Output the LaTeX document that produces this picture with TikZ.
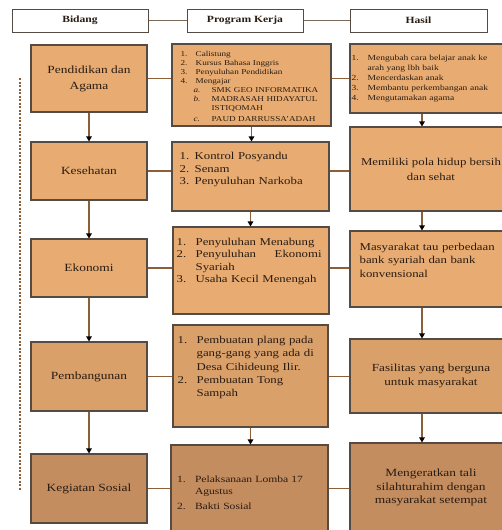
\documentclass[tikz,border=0pt]{standalone}
\usepackage{fontspec}
\setmainfont[FakeStretch=1.22]{Liberation Serif}
\usetikzlibrary{arrows.meta}
\definecolor{rowa}{HTML}{E8AC72}
\definecolor{rowb}{HTML}{DAA06A}
\definecolor{rowc}{HTML}{C48D5F}
\definecolor{bordc}{HTML}{564B42}
\definecolor{linec}{HTML}{8E5E36}
\definecolor{headc}{HTML}{7A6A5A}
\definecolor{txtc}{HTML}{2A1C12}
\newcommand\itm[3][15pt]{\par\hangindent=#1\hangafter=1\noindent\makebox[#1][l]{#2}#3}
\newcommand\subitm[2]{\par\hangindent=31pt\hangafter=1\noindent\hspace*{13pt}\makebox[18pt][l]{\itshape #1}#2}
\begin{document}
\begin{tikzpicture}[x=1pt,y=-1pt,
  box/.style={draw=bordc,line width=1.1pt,fill=rowa,inner sep=0pt,text=txtc},
  head/.style={draw=bordc,line width=1pt,fill=white,minimum height=23pt,text=txtc,font=\bfseries\fontsize{9.5}{11}\selectfont},
  lst/.style={anchor=north west,inner sep=0pt,align=left,text=txtc},
  link/.style={draw=linec,line width=1.2pt},
  arr/.style={link,-{Triangle[length=5pt,width=5.5pt,color=black]}}]
\useasboundingbox (0,0) rectangle (502,530);
% kepala kolom
\node[head,minimum width=136pt] (bid) at (80,20.5) {Bidang};
\node[head,minimum width=116pt] (progh) at (245,20.5) {Program Kerja};
\node[head,minimum width=137pt] (hasil) at (418.5,20.5) {Hasil};
\draw[link,draw=headc,line width=1pt] (bid.east) -- (progh.west) (progh.east) -- (hasil.west);
% garis putus-putus
\coordinate (dtop) at (20,78);
\coordinate (dbot) at (20,490);
\draw[draw=linec,line width=1.2pt,dash pattern=on 2pt off 1.5pt] (dtop) -- (dbot);
% kolom bidang
\foreach \n/\y/\h/\c/\t in {pend/78.5/67/rowa/{Pendidikan dan\\Agama},kes/171/58/rowa/Kesehatan,eko/268/58/rowa/Ekonomi,pemb/376.5/69/rowb/Pembangunan,keg/488.5/69/rowc/Kegiatan Sosial}
  \node[box,fill=\c,minimum width=116pt,minimum height=\h pt,align=center,font=\fontsize{11}{16}\selectfont] (\n) at (89,\y) {\t};
% kolom program kerja
\node[box,minimum width=159pt,minimum height=82pt] (prog1) at (251.5,85) {};
\node[lst,text width=148pt,font=\fontsize{7.5}{9}\selectfont] (prog1t) at ([shift={(9pt,-4pt)}]prog1.north west)
  {\itm{1.}{Calistung}\itm{2.}{Kursus Bahasa Inggris}\itm{3.}{Penyuluhan Pendidikan}\itm{4.}{Mengajar}%
   \subitm{a.}{SMK GEO INFORMATIKA}\subitm{b.}{MADRASAH HIDAYATUL\newline ISTIQOMAH}\par\vspace{2pt}\subitm{c.}{PAUD DARRUSSA'ADAH}\par};
\node[box,minimum width=157pt,minimum height=69pt] (prog2) at (250.5,176.5) {};
\node[lst,text width=145pt,font=\fontsize{10.5}{12.5}\selectfont] (prog2t) at ([shift={(8pt,-5.5pt)}]prog2.north west)
  {\itm{1.}{Kontrol Posyandu}\itm{2.}{Senam}\itm{3.}{Penyuluhan Narkoba}\par};
\node[box,minimum width=156pt,minimum height=87pt] (prog3) at (251,270.5) {};
\node[lst,text width=145pt,font=\fontsize{10.5}{12.3}\selectfont] (prog3t) at ([shift={(4pt,-6.5pt)}]prog3.north west)
  {\itm[19pt]{1.}{Penyuluhan Menabung}\itm[19pt]{2.}{Penyuluhan\hfill Ekonomi\newline Syariah}\itm[19pt]{3.}{Usaha Kecil Menengah}\par};
\node[box,fill=rowb,minimum width=155pt,minimum height=102pt] (prog4) at (250.5,376) {};
\node[lst,text width=146pt,font=\fontsize{10.5}{13.3}\selectfont] (prog4t) at ([shift={(5pt,-5.5pt)}]prog4.north west)
  {\itm[19pt]{1.}{Pembuatan plang pada\newline gang-gang yang ada di\newline Desa Cihideung Ilir.}\itm[19pt]{2.}{Pembuatan Tong\newline Sampah}\par};
\node[box,fill=rowc,minimum width=157pt,minimum height=90pt,text width=145pt,align=left,font=\fontsize{9.5}{12}\selectfont] (prog5) at (249.5,490)
  {\itm[18pt]{1.}{Pelaksanaan Lomba 17\newline Agustus}\par\vspace{3pt}\itm[18pt]{2.}{Bakti Sosial}\par};
% kolom hasil
\node[box,minimum width=162pt,minimum height=69pt] (r1) at (431,78.5) {};
\node[lst,text width=150pt,font=\fontsize{7.8}{10}\selectfont] (r1t) at ([shift={(2pt,-6.5pt)}]r1.north west)
  {\itm[16pt]{1.}{Mengubah cara belajar anak ke\newline arah yang lbh baik}\itm[16pt]{2.}{Mencerdaskan anak}\itm[16pt]{3.}{Membantu perkembangan anak}\itm[16pt]{4.}{Mengutamakan agama}\par};
\node[box,minimum width=162pt,minimum height=84pt,align=center,font=\fontsize{10.5}{15}\selectfont] (r2) at (431,169) {Memiliki pola hidup bersih\\dan sehat};
\node[box,minimum width=162pt,minimum height=76pt] (r3) at (431,269) {};
\node[lst,text width=145pt,font=\fontsize{10.5}{13.5}\selectfont] (r3t) at ([shift={(10pt,-12.5pt)}]r3.north west)
  {Masyarakat tau perbedaan\newline bank syariah dan bank\newline konvensional};
\node[box,fill=rowb,minimum width=162pt,minimum height=74pt,align=center,font=\fontsize{10.8}{14}\selectfont] (r4) at (431,376) {Fasilitas yang berguna\\untuk masyarakat};
\node[box,fill=rowc,minimum width=162pt,minimum height=89pt,align=center,font=\fontsize{11}{13.5}\selectfont] (r5) at (431,487.5) {Mengeratkan tali\\silahturahim dengan\\masyarakat setempat};
% penghubung
\foreach \l/\m/\r in {pend/prog1/r1,kes/prog2/r2,eko/prog3/r3,pemb/prog4/r4,keg/prog5/r5}
  \draw[link] (\l.east) -- (\l.east -| \m.west) (\m.east |- \l.east) -- (\r.west |- \l.east);
\foreach \a/\b in {pend/kes,kes/eko,eko/pemb,pemb/keg}
  \draw[arr] (\a.south) -- (\b.north);
\foreach \a/\b in {prog1/prog2,prog2/prog3,prog4/prog5}
  \draw[arr] (\a.south) -- (\a.south |- \b.north);
\foreach \a/\b in {r1/r2,r2/r3,r3/r4,r4/r5}
  \draw[arr] ([xshift=-9pt]\a.south) -- ([xshift=-9pt]\b.north);
\end{tikzpicture}
\end{document}
